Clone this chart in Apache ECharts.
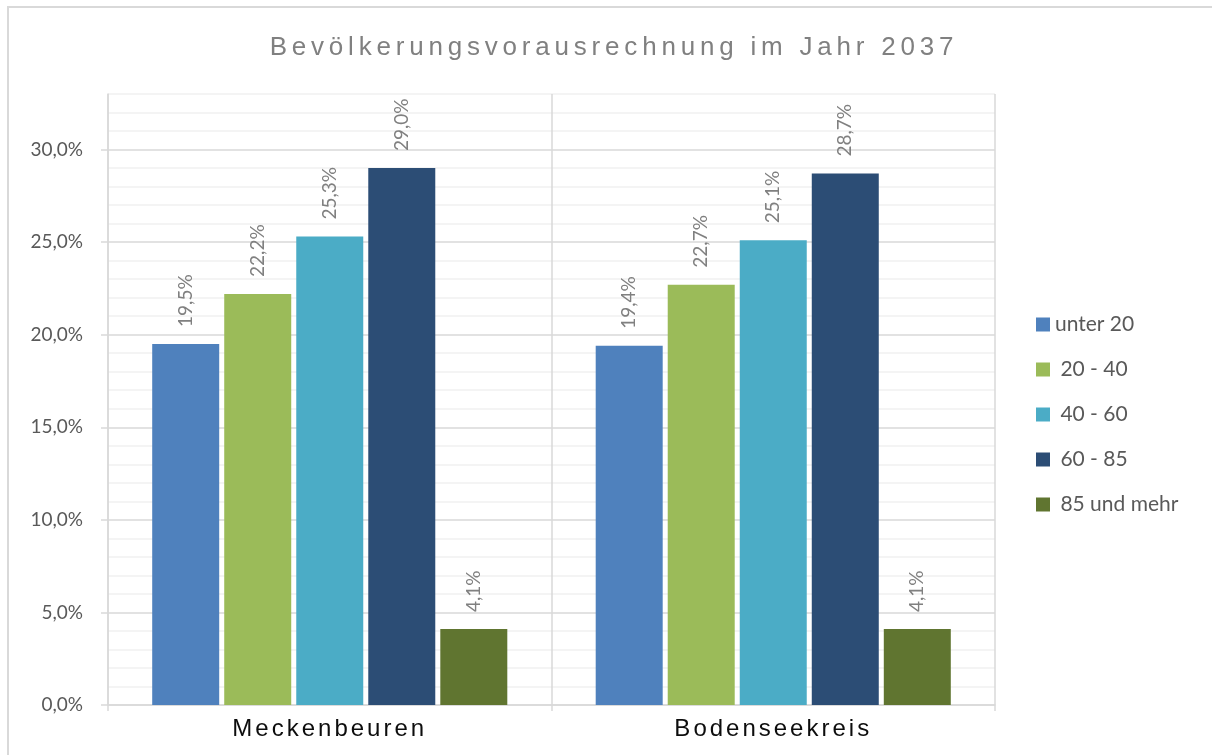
<!DOCTYPE html>
<html>
<head>
<meta charset="utf-8">
<script src="https://cdn.jsdelivr.net/npm/echarts@6/dist/echarts.min.js"></script>
<style>html,body{margin:0;padding:0;background:#fff}#c{width:1212px;height:755px}</style>
</head>
<body>
<div id="c"></div>
<script>
const titleText = 'Bevölkerungsvorausrechnung im Jahr 2037';
const categories = ['Meckenbeuren', 'Bodenseekreis'];
const seriesNames = ['unter 20', ' 20 - 40', ' 40 - 60', ' 60 - 85', ' 85 und mehr'];
const unter20 = [19.5, 19.4];
const a20_40 = [22.2, 22.7];
const a40_60 = [25.3, 25.1];
const a60_85 = [29.0, 28.7];
const a85plus = [4.1, 4.1];
const yTicks = [0, 5, 10, 15, 20, 25, 30];
const colors = ['#4f81bd', '#9bbb59', '#4bacc6', '#2c4d75', '#607530'];

// letter-spaced text (title and category labels only)
const spaced = {};
spaced[titleText] = '4.8px';
categories.forEach(c => spaced[c] = '3px');
const origFill = CanvasRenderingContext2D.prototype.fillText;
CanvasRenderingContext2D.prototype.fillText = function (t) {
  const sp = spaced[t] || '0px';
  if (this.letterSpacing !== sp) {
    this.letterSpacing = sp;
    const f = this.font; this.font = '10px serif'; this.font = f;
  }
  return origFill.apply(this, arguments);
};

const fmt = v => v.toFixed(1).replace('.', ',') + '%';
const allData = [unter20, a20_40, a40_60, a60_85, a85plus];

const chart = echarts.init(document.getElementById('c'), null, {renderer: 'canvas'});
const option = {
  animation: false,
  backgroundColor: '#fff',
  color: colors,
  title: {
    text: titleText, left: 609, top: 30, textAlign: 'center', padding: 5,
    textStyle: {fontFamily: 'Liberation Sans', fontSize: 26, fontWeight: 'normal', color: '#808080'}
  },
  graphic: [{
    type: 'rect', silent: true, z: -10,
    shape: {x: 8, y: 7, width: 1400, height: 900},
    style: {fill: 'none', stroke: '#d9d9d9', lineWidth: 2}
  }],
  legend: {
    orient: 'vertical', left: 1036, top: 314, padding: 0,
    itemWidth: 14, itemHeight: 14, itemGap: 24,
    icon: 'rect',
    textStyle: {fontFamily: 'Lato', fontSize: 21, color: '#595959', lineHeight: 20},
    data: seriesNames
  },
  grid: [
    {left: 108, right: 217, top: 94, bottom: 50},
    {left: 108, right: 217, top: 94 + 611 * 3 / 33, bottom: 50}
  ],
  xAxis: [{
    type: 'category', gridIndex: 0, data: categories,
    axisLine: {lineStyle: {color: '#d9d9d9', width: 1.5}},
    axisTick: {show: true, length: 6, lineStyle: {color: '#d9d9d9', width: 1.5}},
    splitLine: {show: true, lineStyle: {color: '#d9d9d9', width: 1.5}},
    axisLabel: {fontFamily: 'Liberation Sans', fontSize: 24, color: '#0d0d0d', margin: 12}
  }, {
    type: 'category', gridIndex: 1, data: categories, show: false
  }],
  yAxis: [{
    type: 'value', gridIndex: 0, min: 0, max: 33, interval: 1,
    axisLine: {show: true, lineStyle: {color: '#d9d9d9', width: 1.5}},
    axisTick: {show: false},
    axisLabel: {show: false},
    splitLine: {show: true, lineStyle: {color: ['#d9d9d9', '#f0f0f0', '#f0f0f0', '#f0f0f0', '#f0f0f0'], width: 1.5}}
  }, {
    type: 'value', gridIndex: 1, min: yTicks[0], max: yTicks[yTicks.length - 1], interval: 5,
    axisLine: {show: false},
    axisTick: {show: true, length: 7, lineStyle: {color: '#d9d9d9', width: 1.5}},
    splitLine: {show: false},
    axisLabel: {fontFamily: 'Lato', fontSize: 19, color: '#595959', margin: 25, formatter: v => fmt(v)}
  }],
  series: seriesNames.map((n, i) => ({
    name: n, type: 'bar', xAxisIndex: 0, yAxisIndex: 0,
    data: allData[i],
    barWidth: 67, barGap: '7.5%',
    itemStyle: {color: colors[i]},
    label: {
      show: true, position: 'top', distance: 17, rotate: 90,
      align: 'left', verticalAlign: 'middle',
      fontFamily: 'Lato', fontSize: 19, color: '#808080',
      formatter: p => fmt(p.value)
    }
  }))
};
chart.setOption(option);
</script>
</body>
</html>
